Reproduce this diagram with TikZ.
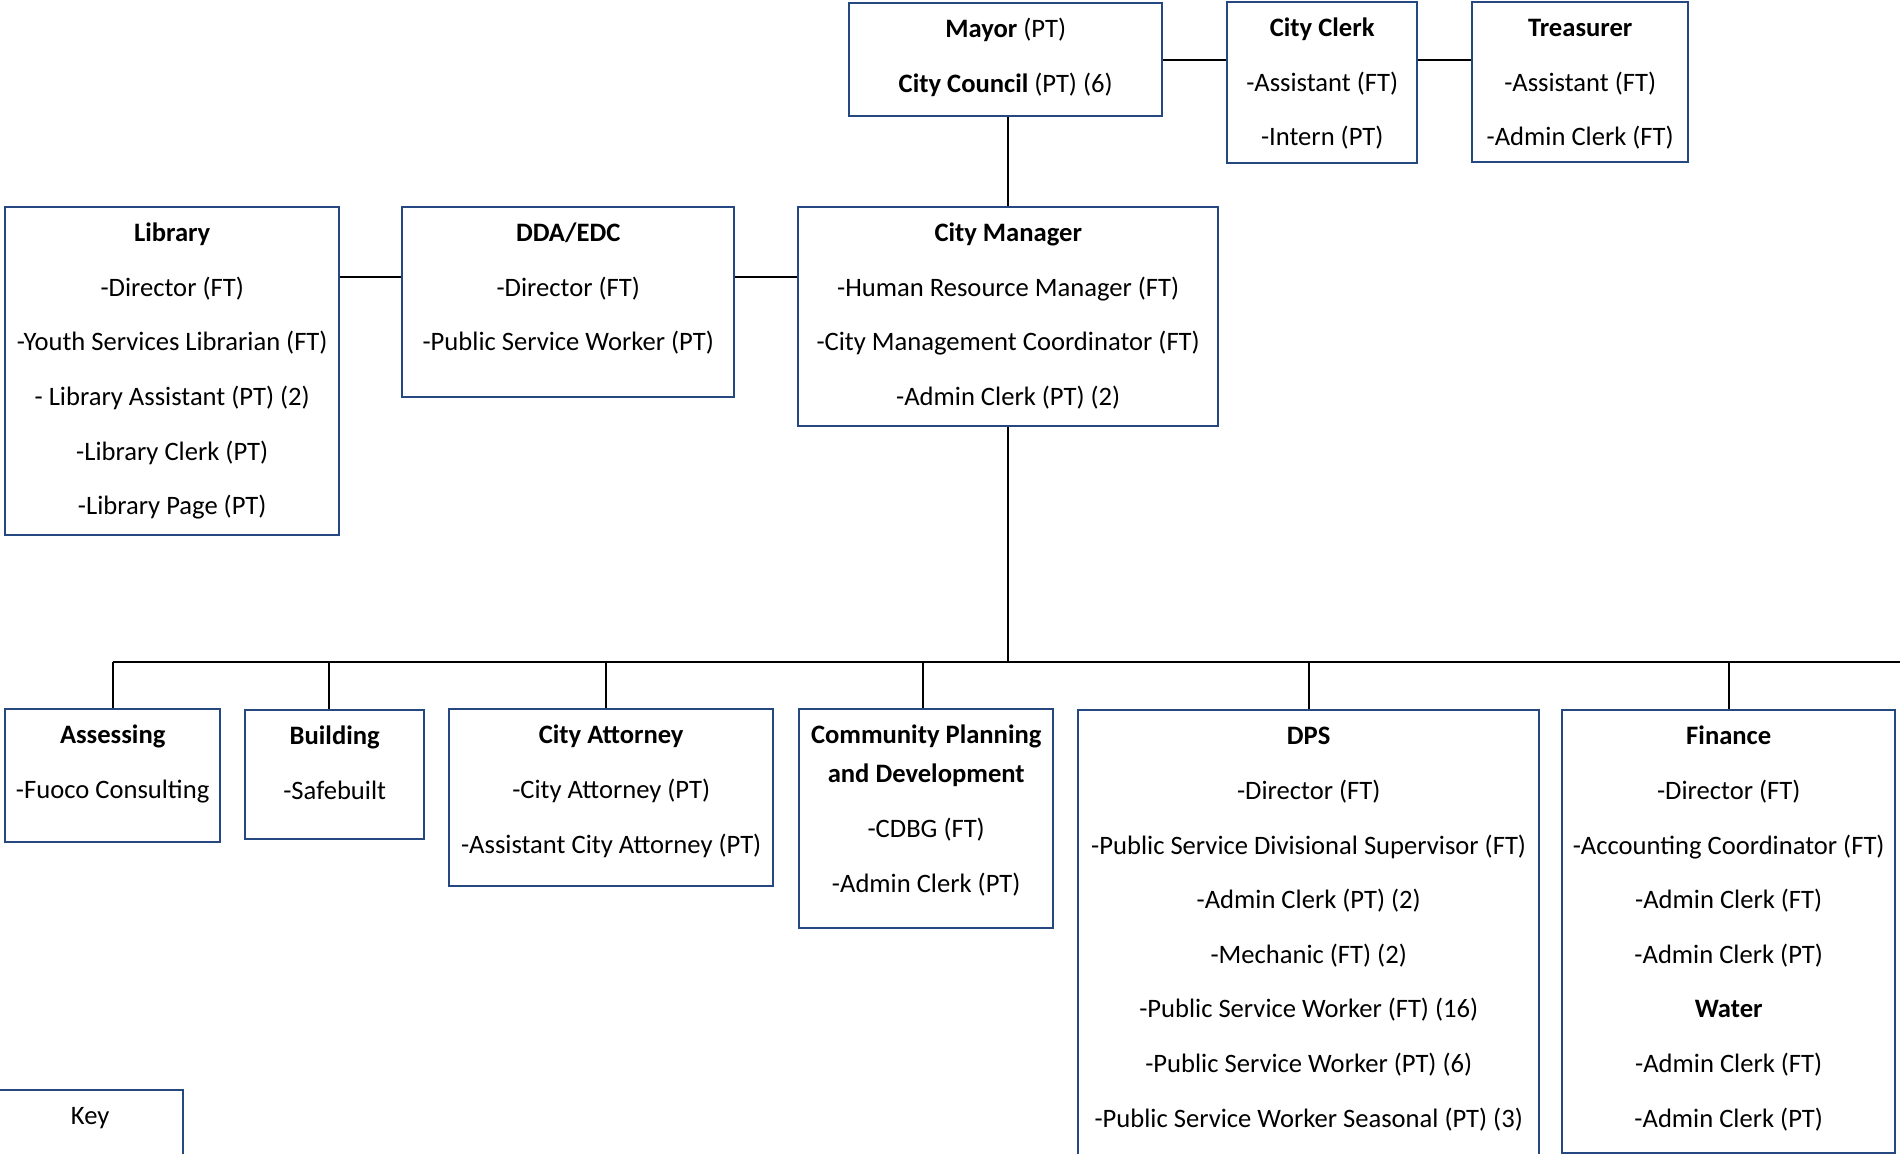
\documentclass[tikz,border=0pt]{standalone}
\usepackage{fontspec}
\setmainfont{Carlito}
\definecolor{orgblue}{RGB}{38,72,128}
\tikzset{x=0.5pt, y=-0.5pt, % One unit is one pixel of the chart, y runs downwards
unit/.style={ % Sets the properties for each office box
anchor=north west,
draw=orgblue, line width=1.2pt,
align=center,
inner xsep=0pt, inner ysep=7.3pt,
font=\fontsize{13.3}{27.3}\selectfont},
link/.style={ % Sets the properties for the lines between offices
draw, line width=0.9pt}}

\begin{document}
\begin{tikzpicture}

    \path[use as bounding box, fill=white] (0,0) rectangle (1900,1154);
    \clip (0,0) rectangle (1900,1154);

    \node[unit, minimum width=156.5pt, text height=37.3pt, text depth=4.6pt] (mayor) at (848,2) {\textbf{Mayor} (PT)\\\textbf{City Council} (PT) (6)};
    \node[unit, minimum width=95pt, text height=64.6pt, text depth=1.3pt] (clerk) at (1226,1) {\textbf{City Clerk}\\-Assistant (FT)\\-Intern (PT)};
    \node[unit, minimum width=108pt, text height=64.6pt, text depth=0.8pt] (treas) at (1471,1) {\textbf{Treasurer}\\-Assistant (FT)\\-Admin Clerk (FT)};

    \node[unit, minimum width=167pt, text height=146.5pt, text depth=2.9pt] (lib) at (4,206) {\textbf{Library}\\-Director (FT)\\-Youth Services Librarian (FT)\\- Library Assistant (PT) (2)\\-Library Clerk (PT)\\-Library Page (PT)};
    \node[unit, minimum width=166pt, text height=64.6pt, text depth=15.8pt] (dda) at (401,206) {\textbf{DDA/EDC}\\-Director (FT)\\-Public Service Worker (PT)};
    \node[unit, minimum width=210pt, text height=91.9pt, text depth=3pt] (cm) at (797,206) {\textbf{City Manager}\\-Human Resource Manager (FT)\\-City Management Coordinator (FT)\\-Admin Clerk (PT) (2)};

    \node[unit, minimum width=107.5pt, text height=37.3pt, text depth=14.6pt] (assess) at (4,708) {\textbf{Assessing}\\-Fuoco Consulting};
    \node[unit, minimum width=89.5pt, text height=37.3pt, text depth=12.6pt] (build) at (244,709) {\textbf{Building}\\-Safebuilt};
    \node[unit, minimum width=162pt, text height=64.6pt, text depth=9.3pt] (atty) at (448,708) {\textbf{City Attorney}\\-City Attorney (PT)\\-Assistant City Attorney (PT)};
    \node[unit, minimum width=127pt, text height=84.1pt, text depth=10.8pt] (cpd) at (798,708) {\textbf{Community Planning}\\[-7.8pt]\textbf{and Development}\\-CDBG (FT)\\-Admin Clerk (PT)};
    \node[unit, minimum width=230.5pt, text height=201.1pt, text depth=19.3pt] (dps) at (1077,709) {\textbf{DPS}\\-Director (FT)\\-Public Service Divisional Supervisor (FT)\\-Admin Clerk (PT) (2)\\-Mechanic (FT) (2)\\-Public Service Worker (FT) (16)\\-Public Service Worker (PT) (6)\\-Public Service Worker Seasonal (PT) (3)};
    \node[unit, minimum width=166.5pt, text height=201.1pt, text depth=5.8pt] (fin) at (1561,709) {\textbf{Finance}\\-Director (FT)\\-Accounting Coordinator (FT)\\-Admin Clerk (FT)\\-Admin Clerk (PT)\\\textbf{Water}\\-Admin Clerk (FT)\\-Admin Clerk (PT)};

    \node[unit, minimum width=93pt, text height=10pt, text depth=25.4pt] (key) at (-4,1089) {Key};

    \coordinate (bus) at (1007,662);
    \coordinate (busend) at (1910,662);

    \draw[link] (mayor.east) -- (mayor.east -| clerk.west);
    \draw[link] (mayor.east -| clerk.east) -- (mayor.east -| treas.west);
    \draw[link] (cm.north |- mayor.south) -- (cm.north);
    \draw[link] ([yshift=-35.5pt]lib.north east) -- ([yshift=-35.5pt]dda.north west);
    \draw[link] ([yshift=-35.5pt]dda.north east) -- ([yshift=-35.5pt]cm.north west);
    \draw[link] (cm.south) -- (cm.south |- bus);

    \draw[link, line width=1.2pt] (assess.north |- bus) -- (busend);
    \draw[link] (assess.north |- bus) -- (assess.north);
    \draw[link] ([xshift=-3pt]build.north |- bus) -- ([xshift=-3pt]build.north);
    \draw[link] ([xshift=-2.5pt]atty.north |- bus) -- ([xshift=-2.5pt]atty.north);
    \draw[link] ([xshift=-1.5pt]cpd.north |- bus) -- ([xshift=-1.5pt]cpd.north);
    \draw[link] (dps.north |- bus) -- (dps.north);
    \draw[link] (fin.north |- bus) -- (fin.north);

\end{tikzpicture}
\end{document}
